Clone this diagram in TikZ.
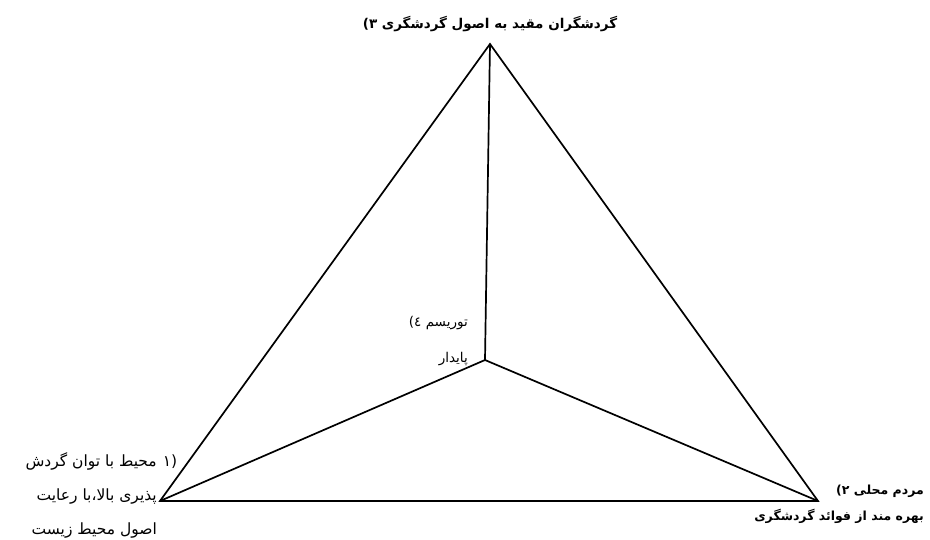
\documentclass[tikz,border=0pt]{standalone}
\usepackage{fontspec}
\usetikzlibrary{positioning}
\TeXXeTstate=1
\newfontfamily\arabicfont[Script=Arabic]{DejaVu Sans}
\tikzset{
  edge/.style={draw=black,line width=1.7pt,line join=miter},
  headlbl/.style={font=\arabicfont\bfseries\fontsize{13.5}{26}\selectfont,
                  inner sep=0pt,align=right},
  sidelbl/.style={font=\arabicfont\fontsize{15.5}{34}\selectfont,
                  inner sep=0pt,align=right}
}

\begin{document}
\begin{tikzpicture}[x=1pt,y=-1pt]
\useasboundingbox (0,0) rectangle (930,540);
\coordinate (apex) at (490,44);
\coordinate (env) at (160,501);
\coordinate (folk) at (818,501);
\coordinate (core) at (485,360);
\node[headlbl,above=12pt of apex] (tourists) {۳) \beginR گردشگران مقید به اصول گردشگری\endR};
\node[headlbl,font=\arabicfont\bfseries\fontsize{12.5}{26}\selectfont,anchor=north east] (locals) at (924,485) {۲) \beginR مردم محلی\endR\\\beginR بهره مند از فوائد گردشگری\endR};
\node[sidelbl,anchor=north east] (site) at (157,452) {\beginR محیط با توان گردش\endR\rlap{\hspace{6pt}(۱}\\\beginR پذیری بالا،با رعایت\endR\\\beginR اصول محیط زیست\endR};
\node[sidelbl,font=\arabicfont\fontsize{13.5}{36}\selectfont,anchor=north east] (goal) at (468,316) {٤) \beginR توریسم\endR\\\beginR پایدار\endR};
\draw[edge] (apex) -- (env) -- (folk) -- cycle;
\draw[edge] (apex) -- (core);
\draw[edge] (env) -- (core);
\draw[edge] (folk) -- (core);
\end{tikzpicture}
\end{document}
